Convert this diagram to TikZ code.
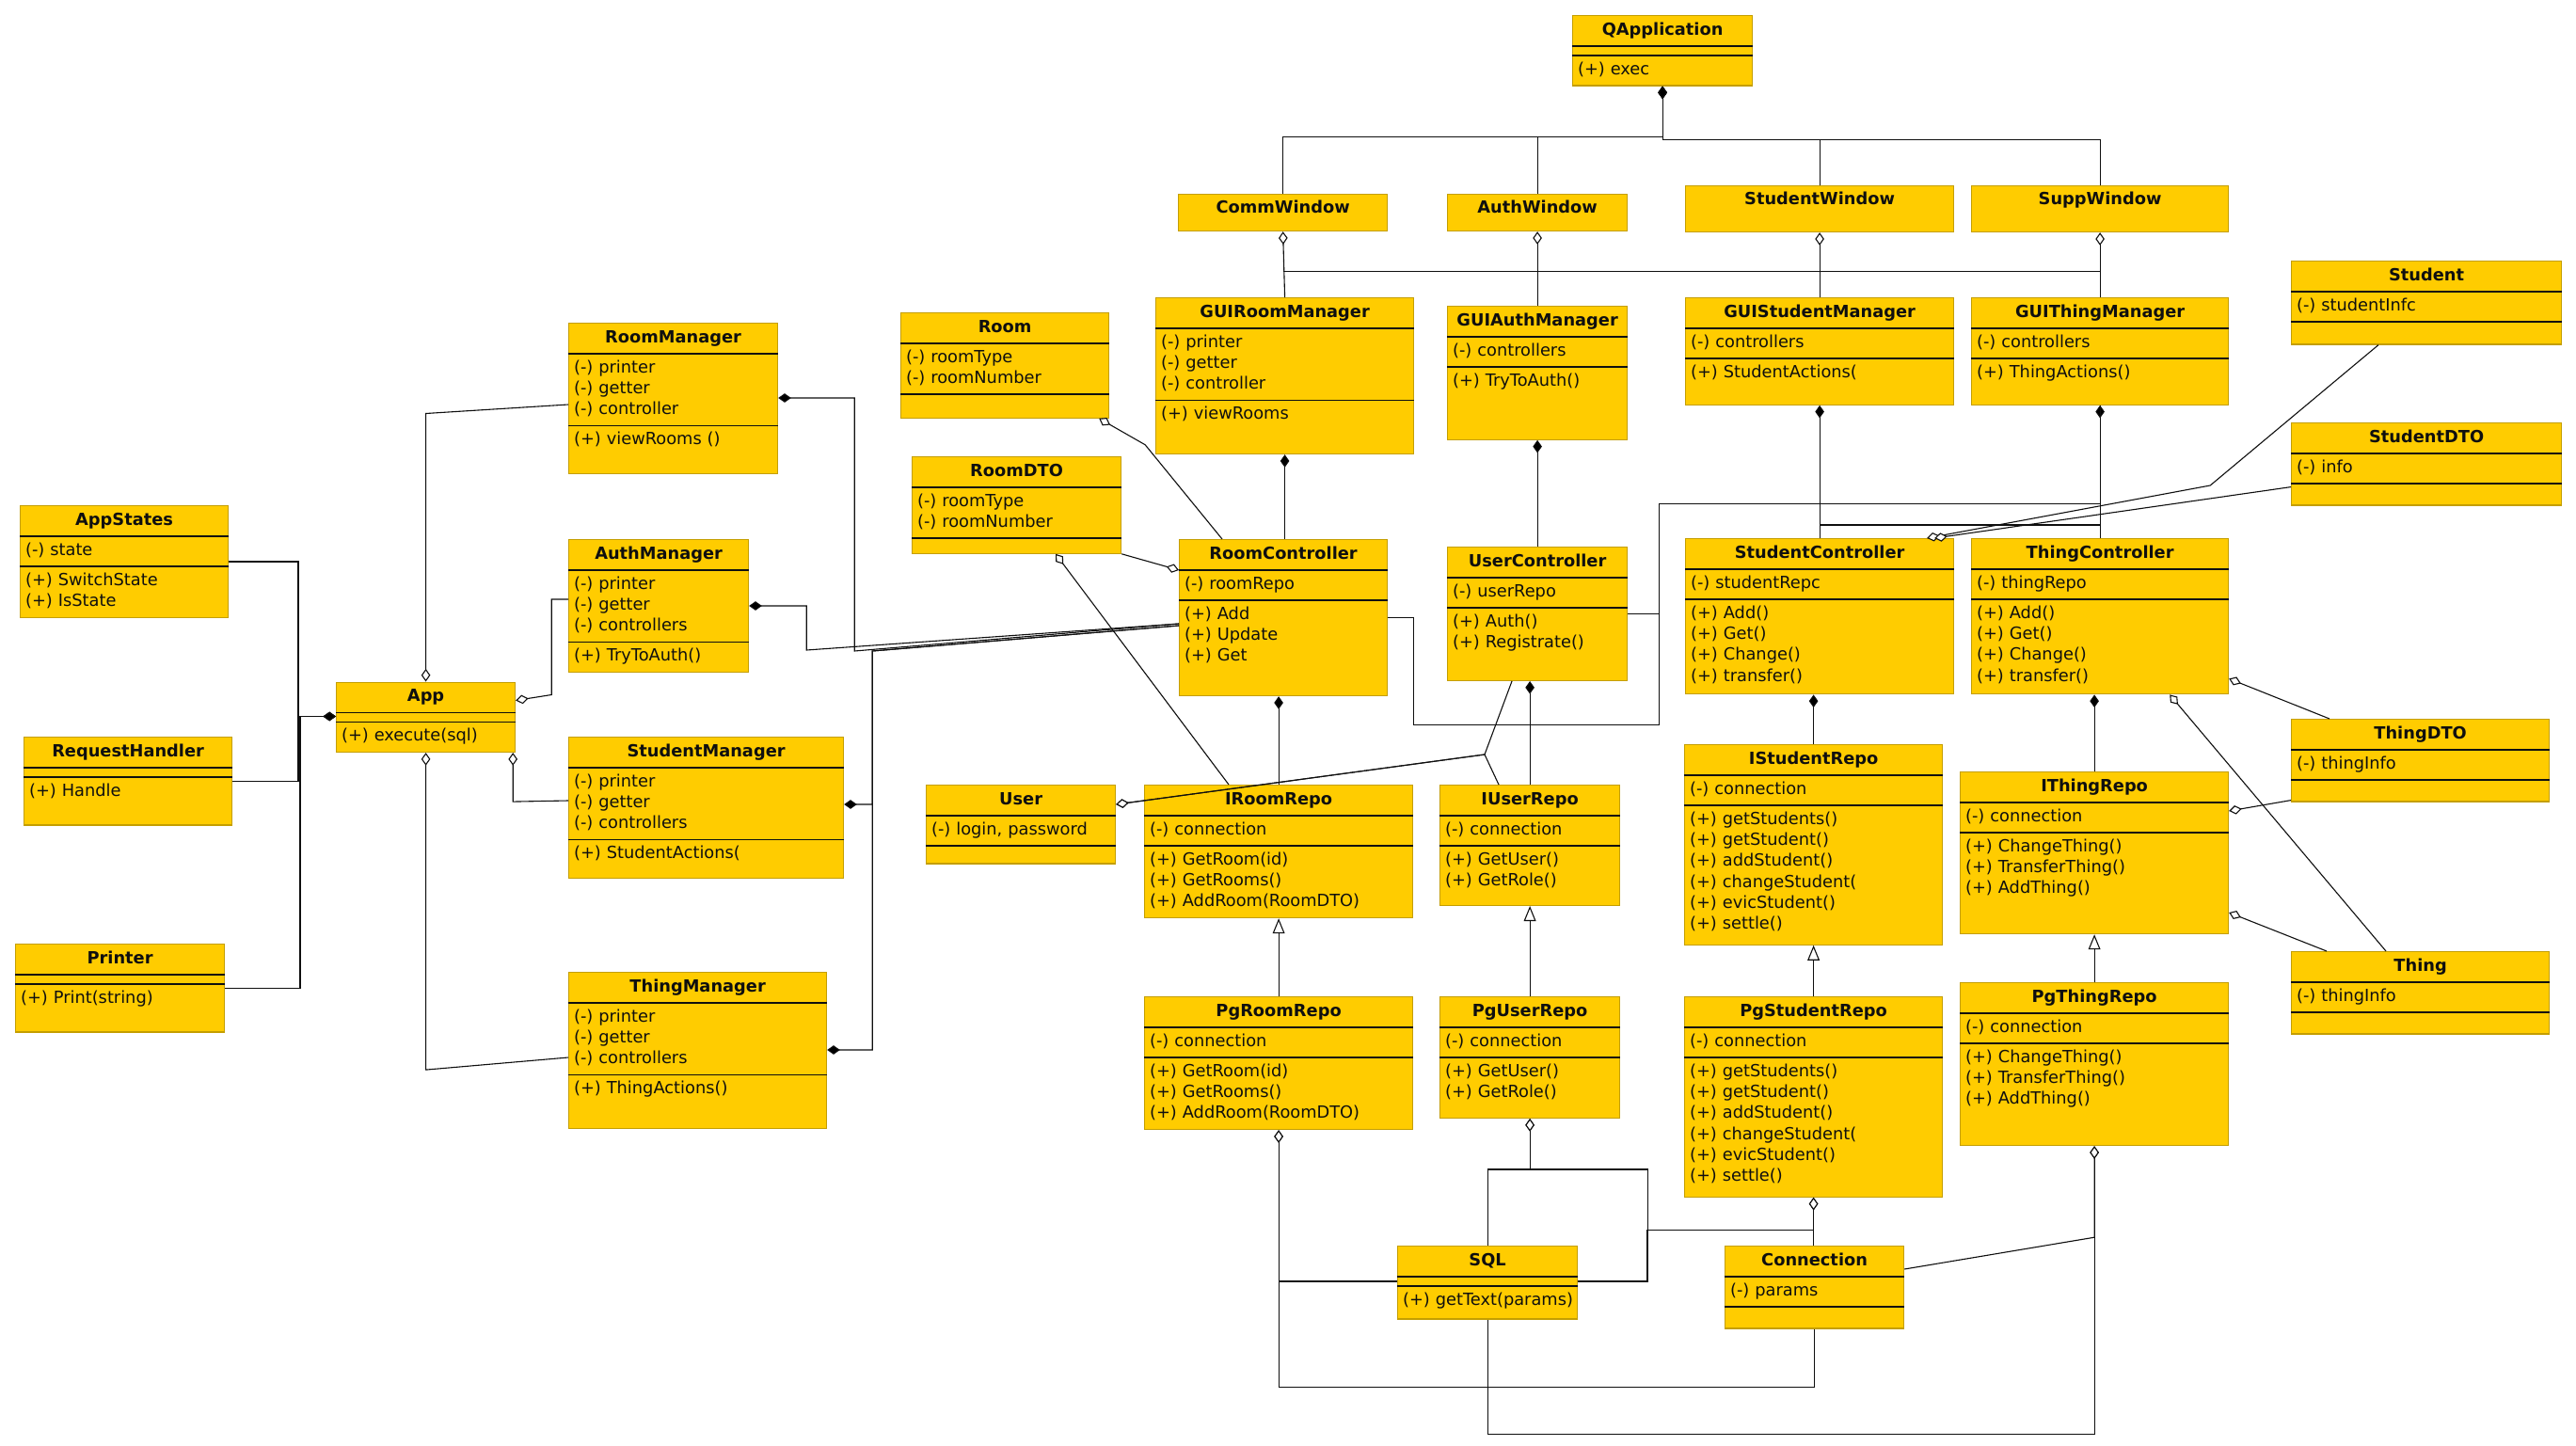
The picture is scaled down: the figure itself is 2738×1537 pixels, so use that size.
\documentclass[tikz,border=0pt]{standalone}
\usepackage{fontspec}
\setmainfont{DejaVu Sans}
\usetikzlibrary{arrows.meta,shapes.multipart,calc}
\definecolor{clsfill}{RGB}{255,204,0}
\definecolor{clsedge}{RGB}{196,158,0}
\definecolor{ink}{RGB}{15,15,15}
\newlength{\upx}\setlength{\upx}{0.5pt}
\newcommand{\ctitle}[1]{\makebox[\hsize]{\strut\textbf{#1}}}
\newcommand{\cattr}[1]{\nodepart{two}\strut#1\strut}
\newcommand{\cnoattr}{\nodepart{two}\rule{0pt}{0pt}}
\newcommand{\cmeth}[2][0]{\nodepart{three}\strut#2\strut\rule[-\dimexpr3.33pt+#1\upx\relax]{0pt}{0pt}}
\newcommand{\cnone}[1]{\nodepart{three}\rule{0pt}{#1\upx}}
\tikzset{
  cls/.style={rectangle split,rectangle split parts=3,rectangle split draw splits=false,
    draw=clsedge,fill=clsfill,line width=0.6pt,
    inner xsep=2.75pt,inner ysep=2.2pt,anchor=north west,text=ink,
    font=\fontsize{8.9pt}{11.1pt}\selectfont},
  cw/.code={\pgfmathsetlengthmacro\clswidth{#1*0.5pt-5.5pt}\tikzset{text width=\clswidth}},
  win/.style={draw=clsedge,fill=clsfill,line width=0.6pt,inner xsep=0pt,inner ysep=2.2pt,
    anchor=north west,minimum width=#1*0.5pt,text height=7.8pt,text=ink,
    font=\fontsize{8.9pt}{11.1pt}\selectfont\bfseries},
  splitline/.style={draw=ink,line width=0.8pt},
  % connectors
  link/.style={draw=ink,line width=0.55pt},
  comp/.style={link,{Diamond[length=6.8pt,width=4.8pt]}-},
  agg/.style={link,{Diamond[open,length=6.8pt,width=4.8pt,fill=white]}-},
  gen/.style={link,-{Triangle[open,length=8pt,width=6.4pt,fill=white]}},
}

\begin{document}
\begin{tikzpicture}[x=0.5pt,y=-0.5pt]
  \path[use as bounding box,fill=white] (0,0) rectangle (2738,1537);

  % windows
  \node[win=222,text depth=7.3pt] (commwin) at (1252,206) {CommWindow};
  \node[win=191,text depth=7.3pt] (authwin) at (1538,206) {AuthWindow};
  \node[win=285,text depth=12.3pt] (studwin) at (1791,197) {StudentWindow};
  \node[win=273,text depth=12.3pt] (suppwin) at (2095,197) {SuppWindow};

  % gui side
  \node[cls,cw=191] (qapp) at (1671,16) {\ctitle{QApplication}\cnoattr\cmeth{(+) exec}};
  \node[cls,cw=274] (guiroom) at (1228,316) {\ctitle{GUIRoomManager}\cattr{(-) printer\\(-) getter\\(-) controller}\cmeth[25]{(+) viewRooms}};
  \node[cls,cw=191] (guiauth) at (1538,325) {\ctitle{GUIAuthManager}\cattr{(-) controllers}\cmeth[45]{(+) TryToAuth()}};
  \node[cls,cw=285] (guistud) at (1791,316) {\ctitle{GUIStudentManager}\cattr{(-) controllers}\cmeth[17]{(+) StudentActions(}};
  \node[cls,cw=273] (guithing) at (2095,316) {\ctitle{GUIThingManager}\cattr{(-) controllers}\cmeth[17]{(+) ThingActions()}};
  \node[cls,cw=287] (student) at (2435,277) {\ctitle{Student}\cattr{(-) studentInfc}\cnone{14}};
  \node[cls,cw=287] (studdto) at (2435,449) {\ctitle{StudentDTO}\cattr{(-) info}\cnone{13}};
  \node[cls,cw=221] (room) at (957,332) {\ctitle{Room}\cattr{(-) roomType\\(-) roomNumber}\cnone{15}};
  \node[cls,cw=222] (roomdto) at (969,485) {\ctitle{RoomDTO}\cattr{(-) roomType\\(-) roomNumber}\cnone{6}};

  % controllers
  \node[cls,cw=221] (roomctrl) at (1253,573) {\ctitle{RoomController}\cattr{(-) roomRepo}\cmeth[25]{(+) Add\\(+) Update\\(+) Get}};
  \node[cls,cw=191] (userctrl) at (1538,581) {\ctitle{UserController}\cattr{(-) userRepo}\cmeth[23]{(+) Auth()\\(+) Registrate()}};
  \node[cls,cw=285] (studctrl) at (1791,572) {\ctitle{StudentController}\cattr{(-) studentRepc}\cmeth[2]{(+) Add()\\(+) Get()\\(+) Change()\\(+) transfer()}};
  \node[cls,cw=273] (thingctrl) at (2095,572) {\ctitle{ThingController}\cattr{(-) thingRepo}\cmeth[2]{(+) Add()\\(+) Get()\\(+) Change()\\(+) transfer()}};

  % repositories
  \node[cls,cw=201] (user) at (984,834) {\ctitle{User}\cattr{(-) login, password}\cnone{9}};
  \node[cls,cw=285] (iroom) at (1216,834) {\ctitle{IRoomRepo}\cattr{(-) connection}\cmeth{(+) GetRoom(id)\\(+) GetRooms()\\(+) AddRoom(RoomDTO)}};
  \node[cls,cw=191] (iuser) at (1530,834) {\ctitle{IUserRepo}\cattr{(-) connection}\cmeth[9]{(+) GetUser()\\(+) GetRole()}};
  \node[cls,cw=274] (istud) at (1790,791) {\ctitle{IStudentRepo}\cattr{(-) connection}\cmeth[5]{(+) getStudents()\\(+) getStudent()\\(+) addStudent()\\(+) changeStudent(\\(+) evicStudent()\\(+) settle()}};
  \node[cls,cw=285] (ithing) at (2083,820) {\ctitle{IThingRepo}\cattr{(-) connection}\cmeth[31]{(+) ChangeThing()\\(+) TransferThing()\\(+) AddThing()}};
  \node[cls,cw=274] (thingdto) at (2435,764) {\ctitle{ThingDTO}\cattr{(-) thingInfo}\cnone{13}};
  \node[cls,cw=274] (thing) at (2435,1011) {\ctitle{Thing}\cattr{(-) thingInfo}\cnone{13}};
  \node[cls,cw=285] (pgroom) at (1216,1059) {\ctitle{PgRoomRepo}\cattr{(-) connection}\cmeth{(+) GetRoom(id)\\(+) GetRooms()\\(+) AddRoom(RoomDTO)}};
  \node[cls,cw=191] (pguser) at (1530,1059) {\ctitle{PgUserRepo}\cattr{(-) connection}\cmeth[10]{(+) GetUser()\\(+) GetRole()}};
  \node[cls,cw=274] (pgstud) at (1790,1059) {\ctitle{PgStudentRepo}\cattr{(-) connection}\cmeth[5]{(+) getStudents()\\(+) getStudent()\\(+) addStudent()\\(+) changeStudent(\\(+) evicStudent()\\(+) settle()}};
  \node[cls,cw=285] (pgthing) at (2083,1044) {\ctitle{PgThingRepo}\cattr{(-) connection}\cmeth[32]{(+) ChangeThing()\\(+) TransferThing()\\(+) AddThing()}};
  \node[cls,cw=191] (sql) at (1485,1324) {\ctitle{SQL}\cnoattr\cmeth[3]{\mbox{(+) getText(params)}}};
  \node[cls,cw=190] (conn) at (1833,1324) {\ctitle{Connection}\cattr{(-) params}\cnone{13}};

  % console side
  \node[cls,cw=221] (appstates) at (21,537) {\ctitle{AppStates}\cattr{(-) state}\cmeth{(+) SwitchState\\(+) IsState}};
  \node[cls,cw=221] (reqh) at (25,783) {\ctitle{RequestHandler}\cnoattr\cmeth[19]{(+) Handle}};
  \node[cls,cw=222] (printer) at (16,1003) {\ctitle{Printer}\cnoattr\cmeth[19]{(+) Print(string)}};
  \node[cls,cw=190] (app) at (357,724.5) {\ctitle{App}\cnoattr\cmeth{(+) execute(sql)}};
  \node[cls,cw=222] (roommgr) at (604,343) {\ctitle{RoomManager}\cattr{(-) printer\\(-) getter\\(-) controller}\cmeth[19]{(+) viewRooms ()}};
  \node[cls,cw=191] (authmgr) at (604,573) {\ctitle{AuthManager}\cattr{(-) printer\\(-) getter\\(-) controllers}\cmeth{(+) TryToAuth()}};
  \node[cls,cw=292] (studmgr) at (604,783) {\ctitle{StudentManager}\cattr{(-) printer\\(-) getter\\(-) controllers}\cmeth[8.5]{(+) StudentActions(}};
  \node[cls,cw=274] (thingmgr) at (604,1033) {\ctitle{ThingManager}\cattr{(-) printer\\(-) getter\\(-) controllers}\cmeth[25]{(+) ThingActions()}};

  \foreach \n in {qapp,guiroom,guiauth,guistud,guithing,student,studdto,room,roomdto,
    roomctrl,userctrl,studctrl,thingctrl,user,iroom,iuser,istud,ithing,thingdto,thing,
    pgroom,pguser,pgstud,pgthing,sql,conn,appstates,reqh,printer,app,roommgr,authmgr,studmgr,thingmgr}
    \draw[splitline] (\n.text split west) -- (\n.text split east) (\n.two split west) -- (\n.two split east);

  % windows and gui managers
  \foreach \w/\dy in {commwin/54,authwin/54,studwin/57,suppwin/57}
    \draw[comp] (qapp.south) -- ++(0,\dy) -| (\w.north);
  \draw[agg] (commwin.south) -- (guiroom.north);
  \draw[agg] (authwin.south) -- (guiauth.north);
  \draw[agg] (studwin.south) -- (guistud.north);
  \draw[agg] (suppwin.south) -- (guithing.north);
  \draw[link] ($(commwin.south)+(0,42)$) -| (guithing.north);
  \foreach \src/\dst in {guiroom/roomctrl,guiauth/userctrl,guistud/studctrl,guithing/thingctrl}
    \draw[comp] (\src.south) -- (\src.south |- \dst.north);
  \foreach \src/\dst in {roomctrl/iroom,userctrl/iuser,studctrl/istud,thingctrl/ithing}
    \draw[comp] (\dst.north |- \src.south) -- (\dst.north);
  \foreach \src/\dst in {pgroom/iroom,pguser/iuser,pgstud/istud,pgthing/ithing}
    \draw[gen] (\src.north) -- (\dst.south);

  \draw[link] (roomctrl.east) -- ++(27,0) -- ++(0,114) -- ++(261,0) -- ++(0,-235) -| (guithing.south);
  \draw[link] (userctrl.east) -- ++(34,0);
  \draw[link] (studctrl.north) -- ++(0,-14) -| (thingctrl.north);

  % entities and dto
  \draw[agg] ($(studctrl.north east)+(-29,0)$) -- ++(301,-56) -- ($(student.south west)+(93,0)$);
  \draw[agg] ($(studctrl.north east)+(-21,0)$) -- ($(studdto.south west)+(0,-20)$);
  \draw[agg] ($(room.south east)+(-11,0)$) -- ++(49,28) -- ($(roomctrl.north west)+(46,0)$);
  \draw[agg] ($(roomctrl.north west)+(0,33)$) -- (roomdto.south east);
  \draw[agg] ($(roomdto.south west)+(153,0)$) -- ($(iroom.north west)+(90,0)$);
  \coordinate (ufork) at (1578,802);
  \draw[agg] ($(user.north east)+(0,21)$) -- (ufork) -- ($(userctrl.south west)+(69,0)$);
  \draw[agg] ($(user.north east)+(0,21)$) -- (ufork) -- ($(iuser.north west)+(63,0)$);
  \draw[agg] ($(thingctrl.south east)+(0,-17)$) -- ($(thingdto.north west)+(41,0)$);
  \draw[agg] ($(ithing.north east)+(0,42)$) -- ($(thingdto.south west)+(0,-2)$);
  \draw[agg] ($(ithing.north east)+(0,150)$) -- ($(thing.north west)+(38,0)$);
  \draw[agg] ($(thingctrl.south east)+(-63,0)$) -- ($(thing.north west)+(101,0)$);

  % console app
  \foreach \n/\dx in {appstates/40,reqh/40,printer/38}
    \draw[comp] ($(app.north west)+(0,37)$) -- ++(-\dx,0) |- (\n.east);
  \draw[agg] (app.north) -- ++(0,-285) -- ($(roommgr.north west)+(0,87)$);
  \draw[agg] ($(app.north east)+(0,20)$) -- ++(38,-6) |- ($(authmgr.north west)+(0,64)$);
  \draw[agg] ($(app.south east)+(-3,0)$) -- ++(0,52) -- ($(studmgr.north west)+(0,68)$);
  \draw[agg] (app.south) -- ++(0,337) -- ($(thingmgr.north west)+(0,91)$);
  \draw[comp] ($(roommgr.north east)+(0,80)$) -- ++(81,0) -- ++(0,269) -- ($(roomctrl.north west)+(0,90)$);
  \draw[comp] ($(authmgr.north east)+(0,71)$) -- ++(61,0) -- ++(0,47) -- ($(roomctrl.north west)+(0,90)$);
  \draw[comp] ($(studmgr.north east)+(0,72)$) -- ++(30,0) -- ++(0,-163) -- ($(roomctrl.north west)+(0,92)$);
  \draw[comp] ($(thingmgr.north east)+(0,83)$) -- ++(48,0) -- ++(0,-424) -- ($(roomctrl.north west)+(0,92)$);

  % sql and connection
  \draw[agg] (pguser.south) -- ++(0,54) -| (sql.north);
  \draw[agg] (pguser.south) -- ++(0,54) -- ++(125,0) |- ($(sql.north east)+(0,38)$);
  \draw[agg] (pgstud.south) -- (pgstud.south |- conn.north);
  \draw[agg] (pgstud.south) -- ++(0,35) -- ++(-177,0) |- ($(sql.north east)+(0,38)$);
  \draw[agg] (pgroom.south) |- ($(sql.north west)+(0,38)$);
  \draw[agg] (pgroom.south) -- ++(0,273) -| (conn.south);
  \draw[agg] (pgthing.south) -- ++(0,97) -- ($(conn.north east)+(0,25)$);
  \draw[agg] (pgthing.south) -- ++(0,306) -| (sql.south);
\end{tikzpicture}
\end{document}
